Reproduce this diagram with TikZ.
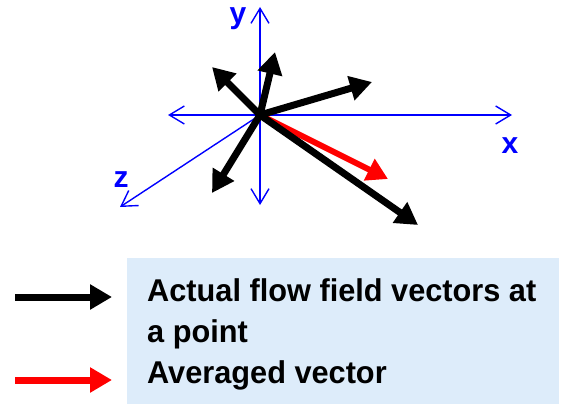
\documentclass[tikz,border=0pt]{standalone}
\usepackage{fontspec}
\setmainfont{Liberation Sans}
\usetikzlibrary{arrows.meta}
\definecolor{legendbg}{RGB}{221,236,250}
\definecolor{axisblue}{RGB}{0,0,255}
\tikzset{
  axis/.style={draw=axisblue, line width=1.4pt, {Straight Barb[length=15pt,width=18pt]}-{Straight Barb[length=15pt,width=18pt]}},
  axisone/.style={draw=axisblue, line width=1.4pt, -{Straight Barb[length=15pt,width=18pt]}},
  flowvec/.style={draw=black, line width=7pt, -{Triangle[length=22pt,width=24pt]}},
  avgvec/.style={draw=red, line width=6pt, -{Triangle[length=21pt,width=23pt]}},
  axlabel/.style={text=axisblue, font=\fontsize{30}{34}\selectfont\bfseries, inner sep=0pt, anchor=base},
  legtext/.style={font=\fontsize{31.5}{41}\selectfont\bfseries, inner sep=0pt, anchor=base west}
}
\newcommand{\narrowtext}[1]{\scalebox{0.975}[1]{#1}}
\begin{document}
\begin{tikzpicture}[x=1pt, y=-1pt]
\useasboundingbox (0,0) rectangle (562,404);
% coordinates
\coordinate (O) at (260,115);
\coordinate (xl) at (168,115);
\coordinate (xr) at (512,115);
\coordinate (yt) at (260,7);
\coordinate (yb) at (260,205);
\coordinate (zt) at (120,207);
\coordinate (v1) at (212,67);
\coordinate (v2) at (275,52);
\coordinate (v3) at (372,82);
\coordinate (v4) at (212,193);
\coordinate (v5) at (418,225);
\coordinate (vr) at (388,179);
% axes
\draw[axis] (xl) -- (xr);
\draw[axis] (yb) -- (yt);
\draw[axisone] (O) -- (zt);
\node[axlabel] (ylab) at (238,24) {y};
\node[axlabel] (xlab) at (510,153) {x};
\node[axlabel] (zlab) at (121,187) {z};
% vectors
\draw[avgvec] (O) -- (vr);
\draw[flowvec] (O) -- (v1);
\draw[flowvec] (O) -- (v2);
\draw[flowvec] (O) -- (v3);
\draw[flowvec] (O) -- (v4);
\draw[flowvec] (O) -- (v5);
% legend
\node[fill=legendbg, draw=none, minimum width=432pt, minimum height=146pt, anchor=north west, inner sep=0pt] (box) at (127,258) {};
\coordinate (lb1) at (15,297);
\coordinate (lb2) at (112,297);
\coordinate (lr1) at (15,380);
\coordinate (lr2) at (112,380);
\draw[flowvec] (lb1) -- (lb2);
\draw[avgvec, line width=7pt, -{Triangle[length=22pt,width=24pt]}] (lr1) -- (lr2);
\node[legtext] (t1) at (147,301) {\narrowtext{Actual flow field vectors at}};
\node[legtext] (t2) at (147,342) {\narrowtext{a point}};
\node[legtext] (t3) at (147,383) {\narrowtext{Averaged vector}};
\end{tikzpicture}
\end{document}
